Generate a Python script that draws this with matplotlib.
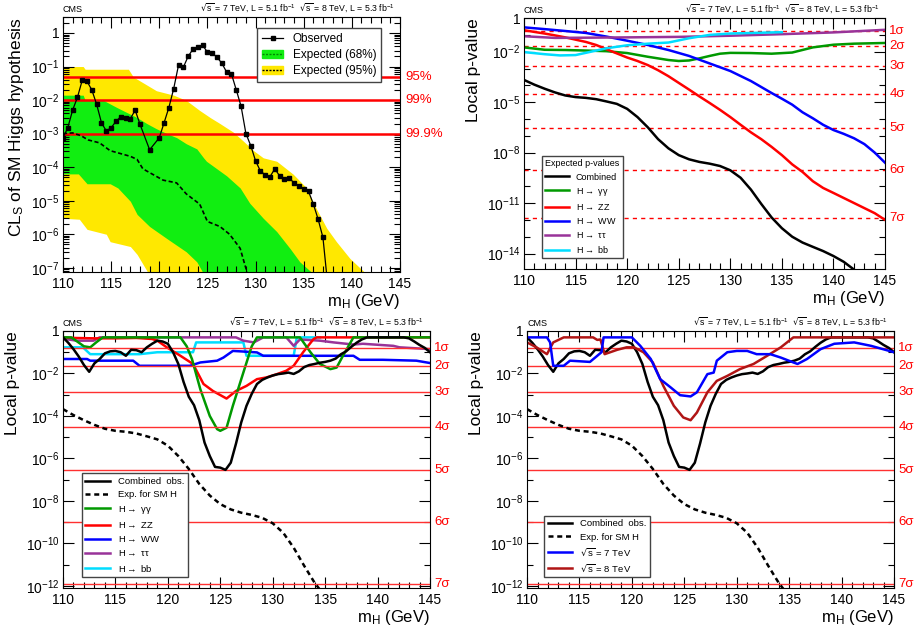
import numpy as np
import matplotlib
matplotlib.use('Agg')
import matplotlib.pyplot as plt
from matplotlib.ticker import FixedLocator, FixedFormatter, MultipleLocator, LogLocator, NullFormatter
from matplotlib.patches import Patch
from matplotlib.lines import Line2D

plt.rcParams['font.family'] = ['Liberation Sans', 'DejaVu Sans']
plt.rcParams['mathtext.default'] = 'regular'

# ---------------- panel 1 : CLs ----------------
obs_cls_m = [110, 110.5, 111, 111.5, 112, 112.5, 113, 113.5, 114, 114.5, 115, 115.5, 116, 116.5,
             117, 117.5, 118, 119, 120, 120.5, 121, 121.5, 122, 122.5, 123, 123.5, 124, 124.5,
             125, 125.5, 126, 126.5, 127, 127.5, 128, 128.5, 129, 129.5, 130, 130.5, 131, 131.5,
             132, 132.5, 133, 133.5, 134, 134.5, 135, 135.5, 136, 136.5, 137, 137.5]
obs_cls = [7.5e-4, 1.5e-3, 5e-3, 1.2e-2, 0.039, 0.036, 0.02, 7.4e-3, 2.1e-3, 1.2e-3, 1.5e-3, 2.3e-3,
           3.2e-3, 3.0e-3, 2.8e-3, 5e-3, 1.9e-3, 3.3e-4, 7.5e-4, 2.1e-3, 6e-3, 0.022, 0.11, 0.095,
           0.2, 0.33, 0.38, 0.43, 0.27, 0.25, 0.19, 0.125, 0.068, 0.06, 0.02, 6.5e-3, 1e-3, 4.4e-4,
           1.55e-4, 7.7e-5, 5.9e-5, 5.2e-5, 8.9e-5, 5.5e-5, 4.4e-5, 4.7e-5, 3.4e-5, 2.8e-5, 2.2e-5,
           1.9e-5, 8e-6, 2.8e-6, 8e-7, 3e-8]

exp_cls_m = [110, 111, 111.9, 112.6, 113.8, 114.9, 117, 117.7, 118.3, 120.4, 121.8, 122.8, 124.2,
             125, 126.3, 127.3, 128.4, 128.9, 129.3]
exp_cls = [1e-3, 1.05e-3, 8.6e-4, 6.5e-4, 5.3e-4, 3.1e-4, 2.1e-4, 1.7e-4, 8.9e-5, 4.1e-5, 3.4e-5,
           1.6e-5, 7.9e-6, 2.4e-6, 1.7e-6, 1e-6, 3.8e-7, 1.2e-7, 5e-8]

y95_hi_m = [110, 112.1, 112.3, 116.8, 117.3, 119.7, 121.5, 122.8, 124.2, 125.3, 126.3, 127.7, 128.7,
            129.8, 130.8, 132.2, 133.9, 135.3, 136.3, 137.4, 138.4, 139.8, 141.5, 142]
y95_hi = [0.1, 0.1, 0.083, 0.083, 0.049, 0.019, 0.014, 0.0098, 4.9e-3, 3e-3, 2e-3, 1.1e-3, 6.1e-4,
          3.1e-4, 1.9e-4, 1.5e-4, 6.2e-5, 2.4e-5, 5.9e-6, 1.5e-6, 6e-7, 1.9e-7, 6.6e-8, 5e-8]
y68_hi_m = [110, 112.1, 112.3, 114.2, 115.6, 117.7, 118.7, 119.7, 120.8, 121.8, 122.8, 123.9, 124.6,
            124.9, 127.0, 128.4, 129.4, 130.8, 132.2, 133.6, 134.6, 136.0, 136.5]
y68_hi = [0.014, 0.014, 0.0098, 0.0098, 6e-3, 3e-3, 2e-3, 1.4e-3, 1e-3, 7.6e-4, 5e-4, 3.5e-4,
          1.9e-4, 1.5e-4, 5.5e-5, 2.4e-5, 8.4e-6, 3e-6, 1.2e-6, 3.7e-7, 1.5e-7, 6.6e-8, 5e-8]
y68_lo_m = [110, 111.6, 112.5, 114.9, 115.7, 117.0, 117.7, 119.0, 120.8, 122.8, 123.9, 124.6, 125]
y68_lo = [6.3e-5, 6.3e-5, 3.2e-5, 3.2e-5, 2.4e-5, 9.6e-6, 3.9e-6, 1.7e-6, 7.4e-7, 3e-7, 1.5e-7,
          6.6e-8, 5e-8]
y95_lo_m = [110, 111.7, 112.5, 114.5, 114.9, 117.0, 117.7, 118.9, 119.2]
y95_lo = [3e-6, 2.8e-6, 1.4e-6, 1e-6, 6e-7, 4.3e-7, 2.5e-7, 6.6e-8, 5e-8]

cl_lines = [0.05, 0.01, 0.001]
cl_labels = ['95%', '99%', '99.9%']

# ---------------- expected p-values (panel 2) ----------------
mass_1 = list(range(110, 146))
exp_comb_m = list(range(110, 144))
exp_comb = [2.1e-4, 1.1e-4, 6.3e-5, 3.8e-5, 2.5e-5, 2.0e-5, 1.8e-5, 1.5e-5, 1.1e-5, 7.9e-6, 4.0e-6,
            1.3e-6, 3.2e-7, 6.3e-8, 1.8e-8, 7.1e-9, 4.0e-9, 2.8e-9, 2.2e-9, 1.6e-9, 8.9e-10, 3.2e-10,
            6.3e-11, 8.9e-12, 1.4e-12, 3.2e-13, 1.0e-13, 4.5e-14, 2.5e-14, 1.4e-14, 7.1e-15, 3.2e-15,
            1.1e-15, 4e-16]
exp_zz = [0.19, 0.15, 0.12, 0.093, 0.071, 0.052, 0.038, 0.025, 0.014, 7.9e-3, 4.5e-3, 2.8e-3, 1.6e-3,
          7.9e-4, 3.5e-4, 1.4e-4, 5.6e-5, 2.2e-5, 8.9e-6, 3.5e-6, 1.3e-6, 4.5e-7, 1.6e-7, 6.3e-8,
          2.2e-8, 7.1e-9, 2.0e-9, 7.1e-10, 2.0e-10, 7.9e-11, 4.0e-11, 2.0e-11, 1.0e-11, 5.0e-12,
          2.5e-12, 1.0e-12]
exp_ww_m = [110, 112, 114, 116, 118, 120, 122, 124, 126, 128, 130, 132, 134, 135, 136, 137, 138, 139,
            140, 141, 142, 143, 144, 145]
exp_ww = [0.28, 0.22, 0.17, 0.13, 0.079, 0.045, 0.025, 0.0126, 5.6e-3, 2.0e-3, 7.1e-4, 1.8e-4, 3.5e-5,
          1.6e-5, 7.1e-6, 2.5e-6, 1.1e-6, 4.5e-7, 2.2e-7, 1.3e-7, 7.1e-8, 3.2e-8, 1.0e-8, 2.5e-9]
exp_gg_m = [110, 112, 114, 116, 118, 120, 122, 124, 125, 126, 127, 128, 129, 130, 132, 134, 136, 138,
            140, 142, 145]
exp_gg = [0.018, 0.013, 0.0126, 0.0117, 0.0107, 8.3e-3, 5.0e-3, 3.2e-3, 2.8e-3, 3.0e-3, 4.0e-3,
          5.6e-3, 7.6e-3, 8.5e-3, 8.3e-3, 7.6e-3, 8.9e-3, 0.018, 0.026, 0.030, 0.033]
exp_bb_m = [110, 112, 113.5, 115, 116.5, 118, 120, 122, 124, 126, 128, 130, 132, 135]
exp_bb = [9.5e-3, 7.1e-3, 6.0e-3, 6.3e-3, 0.01, 0.016, 0.024, 0.03, 0.035, 0.063, 0.1, 0.12, 0.13,
          0.145]
exp_tt_m = [110, 113, 116, 120, 125, 130, 135, 140, 145]
exp_tt = [0.083, 0.066, 0.068, 0.071, 0.076, 0.089, 0.11, 0.14, 0.2]

# ---------------- observed p-values (panels 3, 4) ----------------
obs_comb_m = [110, 110.5, 111, 111.5, 112, 112.5, 113, 113.5, 114, 114.5, 115, 115.5, 116, 116.5,
              117, 117.5, 118, 118.5, 119, 119.5, 120, 120.5, 121, 121.5, 122, 122.5, 123, 123.5,
              124, 124.5, 125, 125.5, 126, 126.5, 127, 127.5, 128, 128.5, 129, 129.5, 130, 130.5,
              131, 131.5, 132, 132.5, 133, 133.5, 134, 134.5, 135, 135.5, 136, 136.5, 137, 137.5,
              138, 138.5, 139, 142.5, 143, 143.5, 144, 144.5, 145]
obs_comb = [0.5, 0.28, 0.14, 0.063, 0.025, 0.012, 0.03, 0.048, 0.089, 0.11, 0.115, 0.1, 0.068, 0.13,
            0.125, 0.1, 0.17, 0.25, 0.35, 0.32, 0.25, 0.1, 0.028, 4e-3, 8e-4, 3.2e-4, 6.3e-5, 5.6e-6,
            1.3e-6, 4e-7, 3.7e-7, 2.9e-7, 6.3e-7, 5e-6, 5e-5, 3e-4, 1.1e-3, 3.2e-3, 5e-3, 6.5e-3,
            8e-3, 9.3e-3, 0.01, 0.011, 9.5e-3, 0.0126, 0.02, 0.025, 0.028, 0.032, 0.035, 0.04, 0.05,
            0.08, 0.11, 0.18, 0.28, 0.4, 0.5, 0.5, 0.45, 0.32, 0.22, 0.16, 0.1]

obs_gg_m = [110, 110.8, 112, 112.6, 113.2, 113.8, 121.2, 121.8, 122.3, 123.1, 124.0, 124.7, 125.0,
            125.6, 126.2, 127.2, 128.0, 128.5, 132.6, 133.6, 134.5, 135.5, 136.1, 136.7, 137.7, 145]
obs_gg = [0.5, 0.5, 0.19, 0.17, 0.3, 0.5, 0.5, 0.19, 0.048, 1.8e-3, 1e-4, 2.4e-5, 2e-5, 2.8e-5, 3e-4,
          0.011, 0.19, 0.5, 0.5, 0.1, 0.028, 0.016, 0.019, 0.068, 0.5, 0.5]
obs_zz_m = [110, 111, 113, 115, 117, 118.5, 119, 119.9, 121.2, 122.4, 123.4, 124.3, 125.6, 126.5,
            127.5, 128.5, 129.4, 130.4, 131.3, 132, 132.9, 133.9, 134.2, 145]
obs_zz = [0.5, 0.47, 0.45, 0.45, 0.47, 0.42, 0.35, 0.17, 0.068, 0.028, 3.2e-3, 1.5e-3, 6.6e-4,
          1.5e-3, 2.6e-3, 5.4e-3, 6.5e-3, 9.3e-3, 0.0135, 0.023, 0.1, 0.42, 0.5, 0.5]
obs_ww_m = [110, 112.3, 112.6, 116.7, 117.3, 122.1, 123.1, 124.7, 125.3, 126.2, 126.9, 128.5, 129.1,
            137.7, 138.3, 140.5, 143.7, 145]
obs_ww = [0.048, 0.048, 0.04, 0.04, 0.023, 0.023, 0.033, 0.04, 0.056, 0.115, 0.11, 0.098, 0.068,
          0.068, 0.044, 0.044, 0.04, 0.031]
obs_tt_m = [110, 110.5, 111.3, 112.9, 113.5, 126.5, 127.2, 128.2, 129.1, 131.3, 132, 132.6, 134.5,
            135.8, 137.7, 138.6, 141.5, 142.1, 145]
obs_tt = [0.5, 0.4, 0.35, 0.35, 0.5, 0.5, 0.35, 0.29, 0.5, 0.5, 0.2, 0.4, 0.35, 0.29, 0.23, 0.25,
          0.2, 0.17, 0.14]
obs_bb_m = [110, 111.9, 112.6, 117.3, 119, 122.4, 122.7, 127.2, 127.5, 132, 132.3, 134.5]
obs_bb = [0.17, 0.17, 0.081, 0.081, 0.1, 0.1, 0.29, 0.29, 0.068, 0.068, 0.5, 0.5]

obs_7tev_m = [110, 111.9, 112.2, 112.5, 113.5, 114.1, 116, 116.7, 117.1, 117.3, 120, 120.8, 121.8,
              122.7, 123.7, 124.6, 125.6, 126.2, 127.2, 127.8, 128.1, 129.1, 130, 131, 131.9, 133.2,
              134.2, 135.4, 135.8, 136.7, 138, 139.3, 141.2, 142.8, 145]
obs_7tev = [0.5, 0.5, 0.29, 0.023, 0.023, 0.04, 0.035, 0.068, 0.1, 0.5, 0.5, 0.2, 0.048, 5.4e-3,
            2.2e-3, 9.5e-4, 8.3e-4, 1.3e-3, 9.3e-3, 0.011, 0.04, 0.1, 0.115, 0.115, 0.081, 0.081,
            0.056, 0.033, 0.028, 0.048, 0.14, 0.25, 0.29, 0.2, 0.1]
obs_8tev_m = [110, 110.9, 111.9, 112.5, 113.5, 116.3, 116.7, 117, 117.4, 118.6, 119.5, 120.2, 121.1,
              122, 123, 124, 124.9, 125.6, 126.2, 127.2, 128.1, 129.1, 130.3, 131.6, 132.9, 134.2,
              135.4, 145]
obs_8tev = [0.29, 0.17, 0.081, 0.29, 0.5, 0.5, 0.38, 0.4, 0.081, 0.13, 0.17, 0.17, 0.1, 0.033,
            2.6e-3, 3e-4, 8.5e-5, 6.3e-5, 1.45e-4, 1.3e-3, 4.5e-3, 7.7e-3, 0.016, 0.028, 0.068, 0.17,
            0.5, 0.5]

sigma_p = [0.1587, 0.02275, 1.35e-3, 3.17e-5, 2.87e-7, 9.87e-10, 1.28e-12]
sigma_labels = ['1σ', '2σ', '3σ', '4σ', '5σ', '6σ', '7σ']

energy_text = r'$\sqrt{s}$ = 7 TeV, L = 5.1 fb$^{-1}$  $\sqrt{s}$ = 8 TeV, L = 5.3 fb$^{-1}$'
c_gg, c_zz, c_ww, c_tt, c_bb = '#009900', '#ff0000', '#0000ff', '#993399', '#00ddff'


def exp_label(e):
    return '1' if e == 0 else '$10^{%d}$' % e


def style(ax, ylim, major_e, minor_e=None, sub_minor=False):
    ax.set_xlim(110, 145)
    ax.set_yscale('log')
    ax.set_ylim(*ylim)
    ax.xaxis.set_major_locator(MultipleLocator(5))
    ax.xaxis.set_minor_locator(MultipleLocator(1))
    ax.yaxis.set_major_locator(FixedLocator([10.0 ** e for e in major_e]))
    ax.yaxis.set_major_formatter(FixedFormatter([exp_label(e) for e in major_e]))
    if sub_minor:
        ax.yaxis.set_minor_locator(LogLocator(base=10, subs=np.arange(2, 10), numticks=30))
    else:
        ax.yaxis.set_minor_locator(FixedLocator([10.0 ** e for e in minor_e]))
    ax.yaxis.set_minor_formatter(NullFormatter())
    ax.tick_params(which='both', direction='in', top=True, right=True, labelsize=10)
    ax.tick_params(axis='x', pad=3.5)
    ax.tick_params(axis='y', pad=2.5)
    ax.tick_params(which='major', length=8, width=0.8)
    ax.tick_params(which='minor', length=4, width=0.8)
    ax.set_xlabel('m$_{H}$ (GeV)', loc='right', fontsize=12, labelpad=1)
    ax.text(0.0, 1.012, 'CMS', transform=ax.transAxes, fontsize=6.5, va='bottom')
    ax.text(0.985, 1.012, energy_text, transform=ax.transAxes, fontsize=6.3, va='bottom', ha='right')
    for s in ax.spines.values():
        s.set_linewidth(0.8)


fig = plt.figure(figsize=(9.18, 6.29), dpi=100)

# ---- panel 1
ax1 = fig.add_axes([0.0686, 0.5676, 0.3671, 0.4054])
ax1.fill_between(y95_hi_m, y95_hi, 1e-9, color='#ffe800', lw=0)
ax1.fill_between(y68_hi_m, y68_hi, 1e-9, color='#11ee11', lw=0)
ax1.fill_between(y68_lo_m, y68_lo, 1e-9, color='#ffe800', lw=0)
ax1.fill_between(y95_lo_m, y95_lo, 1e-9, color='white', lw=0)
for v, lab in zip(cl_lines, cl_labels):
    ax1.axhline(v, color='red', lw=1.8)
    ax1.text(1.015, v, lab, transform=ax1.get_yaxis_transform(), color='red', fontsize=9.5, va='center')
ax1.plot(exp_cls_m, exp_cls, color='black', ls=(0, (2.5, 1.5)), lw=1.2)
ax1.plot(obs_cls_m, obs_cls, color='black', lw=0.9, marker='s', ms=3)
style(ax1, (7.5e-8, 3.0), range(0, -8, -1), sub_minor=True)
ax1.set_ylabel('CL$_{S}$ of SM Higgs hypothesis', loc='top', fontsize=12.5)
h1 = [Line2D([], [], color='black', lw=0.9, marker='s', ms=3),
      (Patch(color='#11ee11'), Line2D([], [], color='#008800', ls=(0, (1.5, 1)), lw=1)),
      (Patch(color='#ffe800'), Line2D([], [], color='black', ls=(0, (1.5, 1)), lw=1))]
ax1.legend(h1, ['Observed', 'Expected (68%)', 'Expected (95%)'], loc='upper right',
           bbox_to_anchor=(0.961, 0.98), fontsize=8.5, fancybox=False, framealpha=1,
           edgecolor='#444444', borderpad=0.4, handlelength=1.8, labelspacing=0.35)

# ---- panel 2
ax2 = fig.add_axes([0.5708, 0.5723, 0.3933, 0.399])
for p, lab in zip(sigma_p, sigma_labels):
    ax2.axhline(p, color='red', lw=1.0, ls=(0, (3, 3)))
    ax2.text(1.012, p, lab, transform=ax2.get_yaxis_transform(), color='red', fontsize=9.5, va='center')
ax2.plot(exp_comb_m, exp_comb, color='black', lw=1.8, label='Combined')
ax2.plot(exp_gg_m, exp_gg, color=c_gg, lw=1.8, label=r'H$\rightarrow$ γγ')
ax2.plot(mass_1, exp_zz, color=c_zz, lw=1.8, label=r'H$\rightarrow$ ZZ')
ax2.plot(exp_ww_m, exp_ww, color=c_ww, lw=1.8, label=r'H$\rightarrow$ WW')
ax2.plot(exp_tt_m, exp_tt, color=c_tt, lw=1.8, label=r'H$\rightarrow$ ττ')
ax2.plot(exp_bb_m, exp_bb, color=c_bb, lw=1.8, label=r'H$\rightarrow$ bb')
style(ax2, (1.2e-15, 1.0), [0, -2, -5, -8, -11, -14], [-1, -3, -4, -6, -7, -9, -10, -12, -13])
ax2.set_ylabel('Local p-value', loc='top', fontsize=12.5)
ax2.legend(loc='lower left', bbox_to_anchor=(0.036, 0.024), title='Expected p-values',
           alignment='left', fontsize=6.5, title_fontsize=6.5, fancybox=False, framealpha=1,
           edgecolor='#444444', borderpad=0.4, handlelength=2.6, labelspacing=0.45)

# ---- panels 3, 4
ax3 = fig.add_axes([0.0686, 0.0652, 0.3998, 0.4086])
ax4 = fig.add_axes([0.5741, 0.0652, 0.3998, 0.4086])
for ax in (ax3, ax4):
    for p, lab in zip(sigma_p, sigma_labels):
        ax.axhline(p, color='#ff3030', lw=1.0)
        ax.text(1.012, p, lab, transform=ax.get_yaxis_transform(), color='red', fontsize=9.5, va='center')

ax3.plot(obs_comb_m, obs_comb, color='black', lw=1.8, label='Combined  obs.')
ax3.plot(exp_comb_m, exp_comb, color='black', lw=1.8, ls=(0, (2, 1.5)), label='Exp. for SM H')
ax3.plot(obs_bb_m, obs_bb, color=c_bb, lw=1.8, zorder=1.9)
ax3.plot(obs_ww_m, obs_ww, color=c_ww, lw=1.8, zorder=1.9)
ax3.plot(obs_tt_m, obs_tt, color=c_tt, lw=1.8, zorder=1.9)
ax3.plot(obs_zz_m, obs_zz, color=c_zz, lw=1.8, zorder=1.9)
ax3.plot(obs_gg_m, obs_gg, color=c_gg, lw=1.8, zorder=1.95)
h3 = [Line2D([], [], color='black', lw=1.8), Line2D([], [], color='black', lw=1.8, ls=(0, (2, 1.5))),
      Line2D([], [], color=c_gg, lw=1.8), Line2D([], [], color=c_zz, lw=1.8),
      Line2D([], [], color=c_ww, lw=1.8), Line2D([], [], color=c_tt, lw=1.8),
      Line2D([], [], color=c_bb, lw=1.8)]
l3 = ['Combined  obs.', 'Exp. for SM H', r'H$\rightarrow$ γγ', r'H$\rightarrow$ ZZ',
      r'H$\rightarrow$ WW', r'H$\rightarrow$ ττ', r'H$\rightarrow$ bb']
ax3.legend(h3, l3, loc='lower left', bbox_to_anchor=(0.038, 0.023), fontsize=6.8, fancybox=False,
           framealpha=1, edgecolor='#444444', borderpad=0.4, handlelength=2.6, labelspacing=0.45)

ax4.plot(obs_comb_m, obs_comb, color='black', lw=1.8)
ax4.plot(exp_comb_m, exp_comb, color='black', lw=1.8, ls=(0, (2, 1.5)))
ax4.plot(obs_8tev_m, obs_8tev, color='#b01515', lw=1.8)
ax4.plot(obs_7tev_m, obs_7tev, color=c_ww, lw=1.8)
h4 = [Line2D([], [], color='black', lw=1.8), Line2D([], [], color='black', lw=1.8, ls=(0, (2, 1.5))),
      Line2D([], [], color=c_ww, lw=1.8), Line2D([], [], color='#b01515', lw=1.8)]
l4 = ['Combined  obs.', 'Exp. for SM H', r'$\sqrt{s}$ = 7 TeV', r'$\sqrt{s}$ = 8 TeV']
ax4.legend(h4, l4, loc='lower left', bbox_to_anchor=(0.033, 0.023), fontsize=6.8, fancybox=False,
           framealpha=1, edgecolor='#444444', borderpad=0.4, handlelength=2.6, labelspacing=0.45)

for ax in (ax3, ax4):
    style(ax, (8e-13, 1.0), [0, -2, -4, -6, -8, -10, -12], [-1, -3, -5, -7, -9, -11])
    ax.set_ylabel('Local p-value', loc='top', fontsize=12.5)

fig.savefig('out.png', dpi=100)
